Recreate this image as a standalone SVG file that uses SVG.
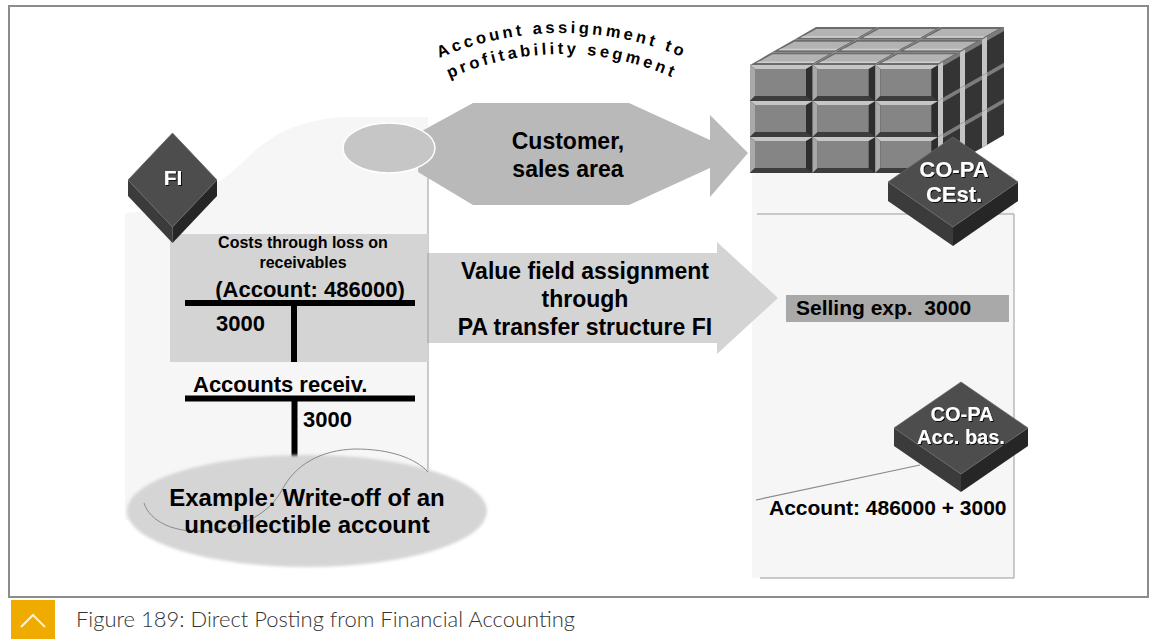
<svg xmlns="http://www.w3.org/2000/svg" xmlns:xlink="http://www.w3.org/1999/xlink" width="1155" height="639" viewBox="0 0 1155 639">
  <style>
    text { font-family: "Liberation Sans", Arial, sans-serif; font-weight: bold; fill: #000; }
    .t16 { font-size: 16px; }
    .t20 { font-size: 20px; }
    .t21 { font-size: 21px; }
    .t22 { font-size: 22px; }
    .t23 { font-size: 23px; }
    .t24 { font-size: 24px; }
    .white { fill: #fff; filter: url(#txtShadow); }
    .arc { font-size: 16.5px; letter-spacing: 3.3px; }
    .caption { font-family: Lato, "Liberation Sans", sans-serif; font-weight: 300; font-size: 21px; fill: #333; }
    .tline { stroke: #000; stroke-width: 6; }
    .thin { stroke: #9a9a9a; stroke-width: 1; fill: none; }
    .dtop { fill: #4d4d4d; stroke: #666; stroke-width: 0.8; }
    .dleft { fill: #3b3b3b; }
    .dright { fill: #262626; }
  </style>
  <defs>
    <filter id="txtShadow" x="-20%" y="-30%" width="140%" height="160%">
      <feDropShadow dx="1" dy="1" stdDeviation="0.6" flood-color="#000" flood-opacity="0.85"/>
    </filter>
    <filter id="soft" x="-10%" y="-10%" width="120%" height="120%">
      <feGaussianBlur stdDeviation="1.5"/>
    </filter>
    <!-- beveled block on the front face of the cube -->
    <g id="frontCell">
      <rect width="62.67" height="36" fill="#2e2e2e"/>
      <polygon points="0,0 62.67,0 56,4 5,4" fill="#c6c6c6"/>
      <polygon points="0,0 5,4 5,31 0,36" fill="#a9a9a9"/>
      <polygon points="0,36 5,31 56,31 62.67,36" fill="#3d3d3d"/>
      <rect x="5" y="4" width="51" height="27" fill="#858585"/>
    </g>
    <!-- block on the top face -->
    <g id="topCell">
      <polygon points="0,0 62.67,0 84.67,-12.67 22,-12.67" fill="#6c6c6c"/>
      <polygon points="6.5,-2 63.4,-2 79,-10.7 22.4,-10.7" fill="#b3b3b3"/>
      <polygon points="6.5,-2 63.4,-2 66,-3.5 9,-3.5" fill="#cfcfcf"/>
    </g>
    <!-- block on the right-hand face -->
    <g id="sideCell">
      <polygon points="0,0 22,-12.67 22,23.33 0,36" fill="#343434"/>
      <polygon points="0,0 5,-2.9 5,33.1 0,36" fill="#c4c4c4"/>
      <polygon points="5,-2.9 22,-12.67 22,-8.67 5,1.1" fill="#7c7c7c"/>
    </g>
    <path id="arc1" d="M 429.7 62.3 A 313 313 0 0 1 694.3 62.3"/>
    <path id="arc2" d="M 447.5 79.4 A 271 271 0 0 1 676.5 79.4"/>
  </defs>

  <rect width="1155" height="639" fill="#fff"/>

  <!-- figure frame -->
  <rect x="9" y="6" width="1139" height="591" fill="none" stroke="#8c8c8c" stroke-width="2"/>

  <!-- curved title -->
  <g id="title">
    <text class="arc" text-anchor="middle"><textPath xlink:href="#arc1" href="#arc1" startOffset="50%">Account assignment to</textPath></text>
    <text class="arc" text-anchor="middle"><textPath xlink:href="#arc2" href="#arc2" startOffset="50%">profitability segment</textPath></text>
  </g>

  <!-- FI side background -->
  <g id="fi-panel">
    <path d="M 125 520 L 125 213 C 175 210 215 190 245 160 C 268 137 295 120 345 117 L 428 117 L 428 520 Z" fill="#f6f6f6"/>
    <line x1="428" y1="176" x2="428" y2="488" class="thin"/>
  </g>

  <!-- CO-PA side background -->
  <g id="copa-panel">
    <rect x="752" y="173" width="262" height="405" fill="#f6f6f6"/>
    <polyline points="757,214 1014,214 1014,578 760,578" class="thin"/>
  </g>

  <!-- loss-on-receivables account -->
  <g id="account-486000">
    <rect x="170" y="234" width="258" height="128" fill="#d4d4d4"/>
    <text class="t16" x="303" y="248" text-anchor="middle">Costs through loss on</text>
    <text class="t16" x="303" y="268" text-anchor="middle">receivables</text>
    <text class="t22" x="310" y="297" text-anchor="middle">(Account: 486000)</text>
    <line x1="185" y1="303" x2="415" y2="303" class="tline"/>
    <line x1="294" y1="303" x2="294" y2="362" class="tline"/>
    <text class="t22" x="216" y="331">3000</text>
  </g>

  <!-- receivables account -->
  <g id="accounts-receivable">
    <text class="t22" x="193" y="392">Accounts receiv.</text>
    <line x1="185" y1="398.5" x2="415" y2="398.5" class="tline"/>
    <line x1="294.5" y1="398" x2="294.5" y2="458" class="tline"/>
    <text class="t22" x="303" y="427">3000</text>
  </g>

  <!-- example ellipse -->
  <g id="example">
    <ellipse cx="307" cy="511" rx="180" ry="56" fill="#d5d5d5" filter="url(#soft)"/>
    <path d="M 144 503 C 150 522 175 533 205 531 C 245 528 270 512 282 490 C 295 465 320 450 355 449 C 390 449 415 458 428 472" fill="none" stroke="#8a8a8a" stroke-width="1"/>
    <text class="t24" x="307" y="506" text-anchor="middle">Example: Write-off of an</text>
    <text class="t24" x="307" y="533" text-anchor="middle">uncollectible account</text>
  </g>

  <!-- FI component box -->
  <g id="fi">
    <polygon class="dleft" points="128,180 172.5,227 172.5,243 128,196"/>
    <polygon class="dright" points="172.5,227 217,180 217,196 172.5,243"/>
    <polygon class="dtop" points="172.5,133 217,180 172.5,227 128,180"/>
    <text class="t21 white" x="173" y="185" text-anchor="middle">FI</text>
  </g>

  <!-- characteristic derivation arrow -->
  <g id="customer-arrow">
    <polygon points="420,132 473,103 629,103 710,140 710,115 748,153 710,197 710,168 629,205 473,205 418,172" fill="#b9b9b9"/>
    <ellipse cx="389" cy="148" rx="46" ry="25" fill="#c6c6c6" stroke="#fff" stroke-width="1.5"/>
    <text class="t23" x="568" y="149" text-anchor="middle">Customer,</text>
    <text class="t23" x="568" y="177" text-anchor="middle">sales area</text>
  </g>

  <!-- value field assignment arrow -->
  <g id="value-field-arrow">
    <polygon points="428,253 717,253 717,242 778,298 717,354 717,343 428,343" fill="#d4d4d4"/>
    <line x1="428" y1="253" x2="428" y2="343" class="thin"/>
    <text class="t23" x="585" y="279" text-anchor="middle">Value field assignment</text>
    <text class="t23" x="585" y="307" text-anchor="middle">through</text>
    <text class="t23" x="585" y="335" text-anchor="middle">PA transfer structure FI</text>
  </g>

  <!-- profitability segment cube -->
  <g id="cube">
    <!-- top face, back rows first -->
    <use href="#topCell" xlink:href="#topCell" x="794" y="39.67"/>
    <use href="#topCell" xlink:href="#topCell" x="856.67" y="39.67"/>
    <use href="#topCell" xlink:href="#topCell" x="919.33" y="39.67"/>
    <use href="#topCell" xlink:href="#topCell" x="772" y="52.33"/>
    <use href="#topCell" xlink:href="#topCell" x="834.67" y="52.33"/>
    <use href="#topCell" xlink:href="#topCell" x="897.33" y="52.33"/>
    <use href="#topCell" xlink:href="#topCell" x="750" y="65"/>
    <use href="#topCell" xlink:href="#topCell" x="812.67" y="65"/>
    <use href="#topCell" xlink:href="#topCell" x="875.33" y="65"/>
    <!-- right face -->
    <use href="#sideCell" xlink:href="#sideCell" x="938" y="65"/>
    <use href="#sideCell" xlink:href="#sideCell" x="960" y="52.33"/>
    <use href="#sideCell" xlink:href="#sideCell" x="982" y="39.67"/>
    <use href="#sideCell" xlink:href="#sideCell" x="938" y="101"/>
    <use href="#sideCell" xlink:href="#sideCell" x="960" y="88.33"/>
    <use href="#sideCell" xlink:href="#sideCell" x="982" y="75.67"/>
    <use href="#sideCell" xlink:href="#sideCell" x="938" y="137"/>
    <use href="#sideCell" xlink:href="#sideCell" x="960" y="124.33"/>
    <use href="#sideCell" xlink:href="#sideCell" x="982" y="111.67"/>
    <!-- front face -->
    <use href="#frontCell" xlink:href="#frontCell" x="750" y="65"/>
    <use href="#frontCell" xlink:href="#frontCell" x="812.67" y="65"/>
    <use href="#frontCell" xlink:href="#frontCell" x="875.33" y="65"/>
    <use href="#frontCell" xlink:href="#frontCell" x="750" y="101"/>
    <use href="#frontCell" xlink:href="#frontCell" x="812.67" y="101"/>
    <use href="#frontCell" xlink:href="#frontCell" x="875.33" y="101"/>
    <use href="#frontCell" xlink:href="#frontCell" x="750" y="137"/>
    <use href="#frontCell" xlink:href="#frontCell" x="812.67" y="137"/>
    <use href="#frontCell" xlink:href="#frontCell" x="875.33" y="137"/>
  </g>

  <!-- costing-based CO-PA -->
  <g id="copa-cest">
    <polygon class="dleft" points="888,182 953,227 953,246 888,201"/>
    <polygon class="dright" points="953,227 1018,182 1018,201 953,246"/>
    <polygon class="dtop" points="953,137 1018,182 953,227 888,182"/>
    <text class="t22 white" x="954" y="177" text-anchor="middle">CO-PA</text>
    <text class="t22 white" x="954" y="202" text-anchor="middle">CEst.</text>
  </g>

  <!-- value field line -->
  <g id="selling-exp">
    <rect x="786" y="295" width="223" height="27" fill="#a9a9a9"/>
    <text class="t21" x="796" y="315" xml:space="preserve">Selling exp.  3000</text>
  </g>

  <!-- account-based CO-PA -->
  <g id="copa-accbas">
    <polygon class="dleft" points="894,428 961,474 961,492 894,446"/>
    <polygon class="dright" points="961,474 1028,428 1028,446 961,492"/>
    <polygon class="dtop" points="961,382 1028,428 961,474 894,428"/>
    <text class="t20 white" x="962" y="421" text-anchor="middle">CO-PA</text>
    <text class="t20 white" x="961" y="444" text-anchor="middle">Acc. bas.</text>
  </g>

  <g id="connectors">
    <line x1="756" y1="500" x2="920" y2="465" stroke="#8a8a8a" stroke-width="1.2"/>
  </g>

  <g id="account-posting">
    <text class="t21" x="769" y="515">Account: 486000 + 3000</text>
  </g>

  <!-- caption -->
  <g id="caption">
    <rect x="11" y="600" width="44" height="39" fill="#f0ab00"/>
    <polyline points="21,627 33,615 45,627" fill="none" stroke="#fff" stroke-opacity="0.85" stroke-width="2"/>
    <text class="caption" x="76" y="627" textLength="499" lengthAdjust="spacingAndGlyphs">Figure 189: Direct Posting from Financial Accounting</text>
  </g>
</svg>
